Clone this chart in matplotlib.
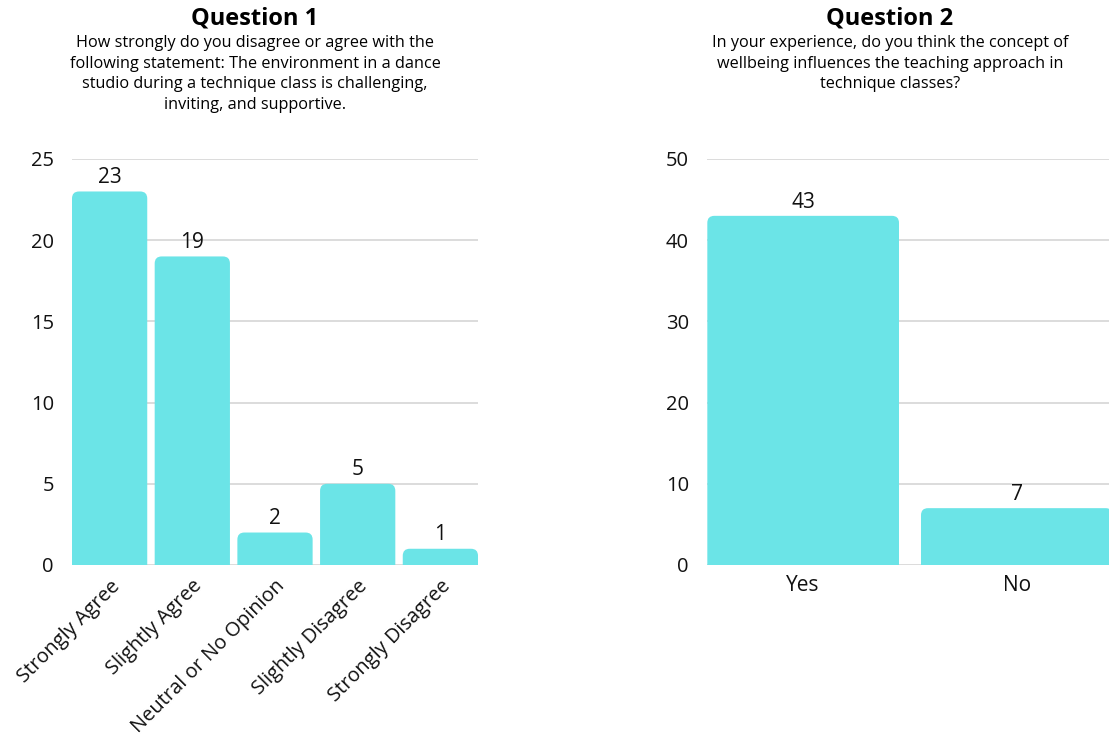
import matplotlib.pyplot as plt
from matplotlib.patches import FancyBboxPatch

plt.rcParams['font.family'] = ['Open Sans', 'DejaVu Sans']

# Survey responses
q1_categories = ["Strongly Agree", "Slightly Agree", "Neutral or No Opinion",
                 "Slightly Disagree", "Strongly Disagree"]
q1_counts = [23, 19, 2, 5, 1]
q1_ticks = [0, 5, 10, 15, 20, 25]

q2_categories = ["Yes", "No"]
q2_counts = [43, 7]
q2_ticks = [0, 10, 20, 30, 40, 50]

q1_title = "Question 1"
q1_question = ("How strongly do you disagree or agree with the\n"
               "following statement: The environment in a dance\n"
               "studio during a technique class is challenging,\n"
               "inviting, and supportive.")
q2_title = "Question 2"
q2_question = ("In your experience, do you think the concept of\n"
               "wellbeing influences the teaching approach in\n"
               "technique classes?")

BAR_COLOR = "#6be4e7"
GRID_COLOR = "#d9d9d9"
W, H = 1109, 740

fig = plt.figure(figsize=(W / 100, H / 100), dpi=100)


def px_axes(x0, x1, y_top, y_bottom):
    return fig.add_axes([x0 / W, 1 - y_bottom / H, (x1 - x0) / W, (y_bottom - y_top) / H])


def rounded_bars(ax, values, width, radius_px=7):
    # rounded top corners; bottom part hidden below y=0
    fig.canvas.draw()
    x_per_px = 1 / (ax.transData.transform((1, 0))[0] - ax.transData.transform((0, 0))[0])
    y_per_px = 1 / (ax.transData.transform((0, 1))[1] - ax.transData.transform((0, 0))[1])
    r = radius_px * x_per_px
    aspect = y_per_px / x_per_px
    extra = radius_px * 2 * y_per_px
    for i, v in enumerate(values):
        patch = FancyBboxPatch((i - width / 2, -extra), width, v + extra,
                               boxstyle=f"round,pad=0,rounding_size={r}",
                               mutation_aspect=aspect, facecolor=BAR_COLOR,
                               edgecolor="none", zorder=3, clip_on=True)
        ax.add_patch(patch)


def value_labels(ax, values):
    for i, v in enumerate(values):
        ax.annotate(str(v), (i, v), xytext=(0, 6), textcoords="offset points",
                    ha="center", va="baseline", fontsize=15, color="#111111")


def style_axes(ax, ticks):
    ax.set_ylim(ticks[0], ticks[-1])
    ax.set_yticks(ticks)
    ax.yaxis.grid(True, color=GRID_COLOR, linewidth=1.3, zorder=0)
    ax.set_axisbelow(True)
    for s in ax.spines.values():
        s.set_visible(False)
    ax.tick_params(axis="y", length=0, pad=13, labelsize=14.5, labelcolor="#111111")
    ax.tick_params(axis="x", length=0)


# Question 1
ax1 = px_axes(72, 478, 159, 565)
ax1.set_xlim(-0.455, len(q1_counts) - 0.545)
style_axes(ax1, q1_ticks)
ax1.set_xticks(range(len(q1_categories)))
ax1.set_xticklabels(q1_categories, rotation=45, ha="right", va="top",
                    rotation_mode="anchor", fontsize=14.4, color="#111111")
ax1.tick_params(axis="x", pad=8)
rounded_bars(ax1, q1_counts, 0.91)
value_labels(ax1, q1_counts)

# Question 2
ax2 = px_axes(707, 1113, 159, 565)
ax2.set_xlim(-0.45, len(q2_counts) - 0.55)
style_axes(ax2, q2_ticks)
ax2.set_xticks(range(len(q2_categories)))
ax2.set_xticklabels(q2_categories, fontsize=15, color="#111111")
ax2.tick_params(axis="x", pad=7)
rounded_bars(ax2, q2_counts, 0.897)
value_labels(ax2, q2_counts)

# Titles
fig.text(255 / W, 1 - 19 / H, q1_title, ha="center", va="center",
         fontsize=17, fontweight="bold")
fig.text(255 / W, 1 - 35 / H, q1_question, ha="center", va="top",
         fontsize=11.7, linespacing=1.38)
fig.text(890 / W, 1 - 19 / H, q2_title, ha="center", va="center",
         fontsize=17, fontweight="bold")
fig.text(890 / W, 1 - 35 / H, q2_question, ha="center", va="top",
         fontsize=11.7, linespacing=1.38)

fig.savefig("out.png", dpi=100)
